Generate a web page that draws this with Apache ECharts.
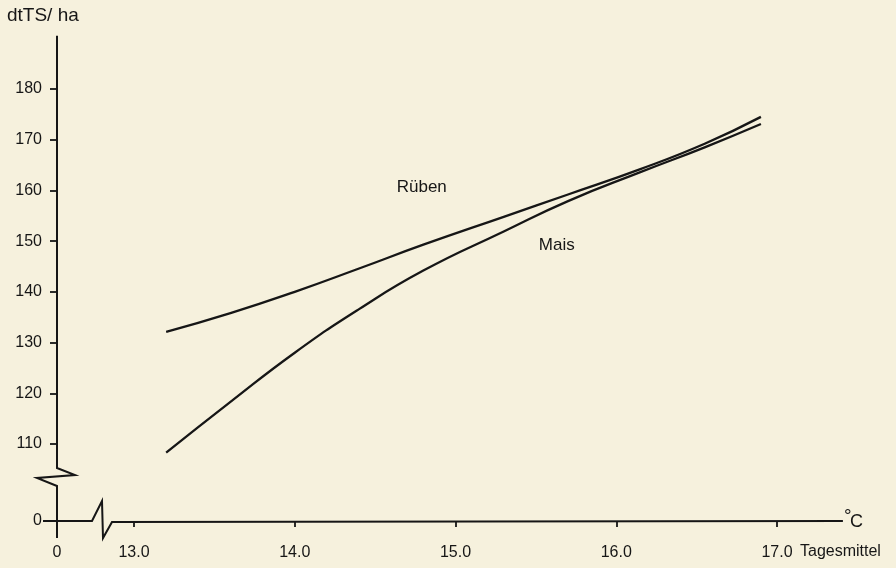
<!DOCTYPE html>
<html>
<head>
<meta charset="utf-8">
<script src="https://cdn.jsdelivr.net/npm/echarts@6/dist/echarts.min.js"></script>
<style>
  html, body { margin: 0; padding: 0; background: #f6f1dd; }
  #chart { width: 896px; height: 568px; }
</style>
</head>
<body>
<div id="chart"></div>
<script>
// Temperature (daily mean, °C) against dry-matter yield (dt TS / ha)
const xTickValues = [13, 14, 15, 16, 17];
const yTickValues = [110, 120, 130, 140, 150, 160, 170, 180];

const rubenTemp  = [13.2, 13.6, 14.0, 14.4, 14.8, 15.3, 15.7, 16.15, 16.55, 16.9];
const rubenYield = [132.1, 135.8, 140.0, 144.6, 149.3, 154.8, 159.2, 164.2, 169.2, 174.5];

const maisTemp  = [13.2, 13.6, 14.0, 14.4, 14.8, 15.3, 15.7, 16.15, 16.55, 16.9];
const maisYield = [108.3, 118.3, 128.0, 136.6, 144.2, 151.9, 157.9, 163.6, 168.5, 173.1];

const seriesNames = ['Rüben', 'Mais'];

const ink = '#161616';
const paper = '#f6f1dd';
const font = '"Liberation Sans", Arial, sans-serif';

const labelStyle = { color: ink, fontSize: 16, fontFamily: font };
const tickStyle = { color: ink, width: 1.8 };

const chart = echarts.init(document.getElementById('chart'), null, { renderer: 'canvas' });

const curve = (name, temps, yields) => ({
  name: name, type: 'line', xAxisIndex: 0, yAxisIndex: 0,
  data: temps.map((t, i) => [t, yields[i]]),
  smooth: 0.5, showSymbol: false, clip: false,
  lineStyle: { color: ink, width: 2.3 }
});

chart.setOption({
  backgroundColor: paper,
  animation: false,
  grid: [
    // main plot area, 13–17 °C by 110–180 dt/ha
    { left: 134, right: 119, top: 89, bottom: 124 },
    // origin corner below the axis breaks
    { left: 57, width: 40, bottom: 47, height: 40 }
  ],
  xAxis: [
    {
      gridIndex: 0, type: 'value',
      min: xTickValues[0], max: xTickValues[xTickValues.length - 1], interval: 1,
      offset: 77,
      axisLine: { show: false },
      axisTick: { length: 6, lineStyle: tickStyle },
      axisLabel: Object.assign({ margin: 24, formatter: v => v.toFixed(1) }, labelStyle),
      splitLine: { show: false }
    },
    {
      gridIndex: 1, type: 'value', min: 0, max: 1, interval: 1,
      axisLine: { show: false },
      axisTick: { show: false },
      axisLabel: Object.assign({ margin: 24, formatter: v => (v === 0 ? '0' : '') }, labelStyle),
      splitLine: { show: false }
    }
  ],
  yAxis: [
    {
      gridIndex: 0, type: 'value',
      min: yTickValues[0], max: yTickValues[yTickValues.length - 1], interval: 10,
      offset: 77,
      axisLine: { show: false },
      axisTick: { length: 7, lineStyle: tickStyle },
      axisLabel: Object.assign({ margin: 15 }, labelStyle),
      splitLine: { show: false }
    },
    {
      gridIndex: 1, type: 'value', min: 0, max: 1, interval: 1,
      axisLine: { show: false },
      axisTick: { show: false },
      axisLabel: Object.assign({ margin: 15, formatter: v => (v === 0 ? '0' : '') }, labelStyle),
      splitLine: { show: false }
    }
  ],
  series: [
    curve(seriesNames[0], rubenTemp, rubenYield),
    curve(seriesNames[1], maisTemp, maisYield)
  ]
});

// Axis lines with their break marks, placed from the axis scales
const px = (g, x, y) => chart.convertToPixel({ gridIndex: g }, [x, y]);
const origin = px(1, 0, 0);
const ox = origin[0], oy = origin[1];
const yTop = px(0, 13, 190.5)[1];
const y110 = px(0, 13, 110)[1];
const xEnd = px(0, 17.41, 110)[0];
const x17 = px(0, 17, 110)[0];
const rubenAt = px(0, 14.79, 160.7);
const maisAt = px(0, 15.63, 149.2);

const axisStroke = { stroke: ink, lineWidth: 2, fill: null, lineJoin: 'miter' };

chart.setOption({
  graphic: [
    {
      type: 'polyline', silent: true,
      shape: { points: [
        [ox, yTop], [ox, y110 + 24], [ox + 18, y110 + 31],
        [ox - 20, y110 + 34], [ox, y110 + 42], [ox, oy + 17]
      ] },
      style: axisStroke
    },
    {
      type: 'polyline', silent: true,
      shape: { points: [
        [ox - 14, oy], [ox + 35, oy], [ox + 45, oy - 20],
        [ox + 46, oy + 17], [ox + 55, oy + 1], [xEnd, oy]
      ] },
      style: axisStroke
    },
    {
      type: 'text', silent: true, x: 7, y: 16,
      style: { text: 'dtTS/ ha', fill: ink, font: '19px ' + font, verticalAlign: 'middle' }
    },
    {
      type: 'text', silent: true, x: xEnd + 1, y: oy - 14,
      style: { text: '°', fill: ink, font: '19px ' + font }
    },
    {
      type: 'text', silent: true, x: xEnd + 7, y: oy + 1,
      style: { text: 'C', fill: ink, font: '18px ' + font, verticalAlign: 'middle' }
    },
    {
      type: 'text', silent: true, x: x17 + 23, y: oy + 31,
      style: { text: 'Tagesmittel', fill: ink, font: '16px ' + font, verticalAlign: 'middle' }
    },
    {
      type: 'text', silent: true, x: rubenAt[0], y: rubenAt[1],
      style: { text: seriesNames[0], fill: ink, font: '17px ' + font, align: 'center', verticalAlign: 'middle' }
    },
    {
      type: 'text', silent: true, x: maisAt[0], y: maisAt[1],
      style: { text: seriesNames[1], fill: ink, font: '17px ' + font, align: 'center', verticalAlign: 'middle' }
    }
  ]
});
</script>
</body>
</html>
